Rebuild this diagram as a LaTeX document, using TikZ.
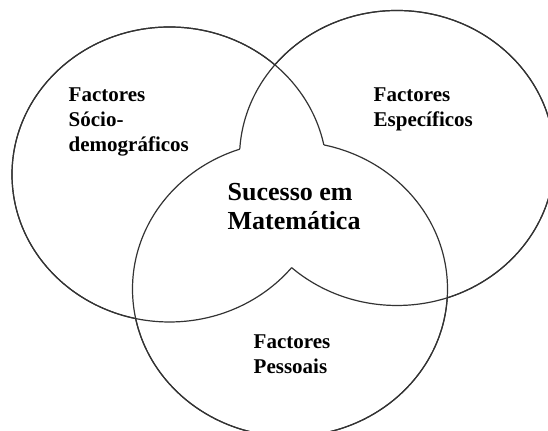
\documentclass[tikz,border=0pt]{standalone}
\usepackage{fontspec}
\setmainfont{Liberation Serif}

\begin{document}
\begin{tikzpicture}[x=0.5pt, y=0.5pt,
    conjunto/.style ={x radius=157.5, y radius=147.5},
    contorno/.style ={draw=black!80, line width=0.6pt},
    factor/.style ={anchor=base west, align=left, inner sep=0pt,
      font=\fontsize{10.5}{12.5}\selectfont\bfseries},
    sucesso/.style ={anchor=base west, align=left, inner sep=0pt,
      font=\fontsize{13}{14.5}\selectfont\bfseries}]
   \useasboundingbox (0,0) rectangle (548,431);
   \coordinate (S) at (169.5,256.5);
   \coordinate (E) at (397,273);
   \coordinate (P) at (290,142);

   % an outline is hidden where it runs inside both other sets
   \begin{scope}[even odd rule]
     \clip (-20,-20) rectangle (580,460) (E) ellipse [conjunto];
     \draw[contorno] (S) ellipse [conjunto];
   \end{scope}
   \begin{scope}[even odd rule]
     \clip (-20,-20) rectangle (580,460) (P) ellipse [conjunto];
     \draw[contorno] (S) ellipse [conjunto];
   \end{scope}
   \begin{scope}[even odd rule]
     \clip (-20,-20) rectangle (580,460) (S) ellipse [conjunto];
     \draw[contorno] (E) ellipse [conjunto];
   \end{scope}
   \begin{scope}[even odd rule]
     \clip (-20,-20) rectangle (580,460) (P) ellipse [conjunto];
     \draw[contorno] (E) ellipse [conjunto];
   \end{scope}
   \begin{scope}[even odd rule]
     \clip (-20,-20) rectangle (580,460) (S) ellipse [conjunto];
     \draw[contorno] (P) ellipse [conjunto];
   \end{scope}
   \begin{scope}[even odd rule]
     \clip (-20,-20) rectangle (580,460) (E) ellipse [conjunto];
     \draw[contorno] (P) ellipse [conjunto];
   \end{scope}

   % the base anchor sits on the last line
   \node[factor] (socio) at (68.3,279.3) {Factores\\Sócio-\\demográficos};
   \node[factor] (especificos) at (373.3,304.3) {Factores\\Específicos};
   \node[sucesso] (matematica) at (227.3,201) {Sucesso em\\Matemática};
   \node[factor] (pessoais) at (253.3,57.7) {Factores\\Pessoais};
\end{tikzpicture}
\end{document}
